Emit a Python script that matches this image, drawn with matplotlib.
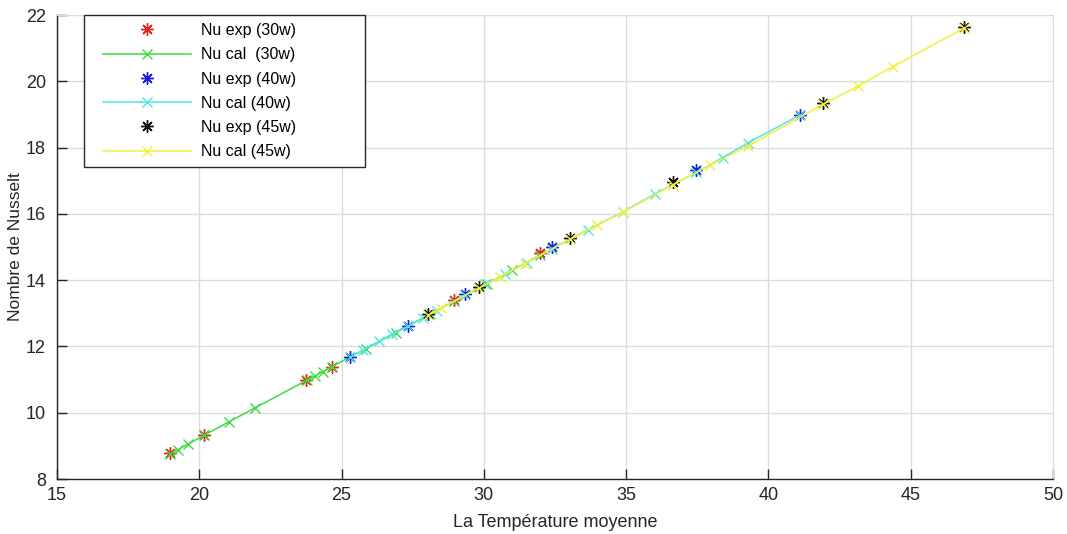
import matplotlib
matplotlib.use("Agg")
import matplotlib.pyplot as plt
from matplotlib.legend_handler import HandlerLine2D

# Experimental and calculated Nusselt numbers vs. mean temperature
exp30_T = [18.97, 20.17, 23.75, 24.66, 28.95, 31.97]
exp30_Nu = [8.78, 9.33, 10.99, 11.38, 13.40, 14.82]

cal30_T = [18.97, 19.25, 19.60, 20.17, 21.05, 21.95, 23.78, 24.05, 24.35,
           24.66, 25.85, 26.90, 28.10, 28.95, 30.10, 31.00, 31.97]
cal30_Nu = [8.76, 8.89, 9.05, 9.32, 9.73, 10.14, 10.98, 11.10, 11.24,
            11.39, 11.93, 12.42, 12.97, 13.36, 13.89, 14.30, 14.75]

exp40_T = [25.30, 27.33, 29.34, 32.39, 37.47, 41.10]
exp40_Nu = [11.68, 12.61, 13.58, 15.00, 17.32, 18.98]

cal40_T = [25.30, 25.75, 26.31, 26.77, 27.33, 27.86, 28.35, 29.34, 30.05,
           30.74, 31.50, 32.39, 33.66, 34.89, 36.00, 37.47, 38.40, 39.28, 41.10]
cal40_Nu = [11.68, 11.89, 12.15, 12.36, 12.61, 12.86, 13.08, 13.55, 13.87,
            14.18, 14.53, 14.95, 15.52, 16.06, 16.60, 17.25, 17.70, 18.14, 18.98]

exp45_T = [28.04, 29.83, 33.03, 36.64, 41.91, 46.87]
exp45_Nu = [12.98, 13.79, 15.28, 16.96, 19.34, 21.64]

cal45_T = [28.04, 28.50, 29.83, 30.57, 31.44, 33.03, 33.97, 34.90, 36.64,
           37.95, 39.28, 41.91, 43.14, 44.37, 46.87]
cal45_Nu = [12.94, 13.15, 13.76, 14.10, 14.50, 15.23, 15.66, 16.05, 16.88,
            17.47, 18.04, 19.30, 19.85, 20.44, 21.60]

x_ticks = [15, 20, 25, 30, 35, 40, 45, 50]
y_ticks = [8, 10, 12, 14, 16, 18, 20, 22]

plt.rcParams['font.family'] = ['Liberation Sans', 'DejaVu Sans']

AX_COLOR = '#262626'
GRID_COLOR = '#dcdcdc'
star = (8, 2, 0)

fig = plt.figure(figsize=(10.67, 5.34), dpi=100)
ax = fig.add_axes([57 / 1067, 55 / 534, 996 / 1067, 464 / 534])

ax.plot(exp30_T, exp30_Nu, linestyle='none', marker=star, ms=9, mew=1.0,
        color='#e8231e', label='Nu exp (30w)')
ax.plot(cal30_T, cal30_Nu, '-', marker='x', ms=6.5, mew=1.0, lw=1.1,
        color='#3fdc3f', label='Nu cal  (30w)')
ax.plot(exp40_T, exp40_Nu, linestyle='none', marker=star, ms=9, mew=1.0,
        color='#1c1cdc', label='Nu exp (40w)')
ax.plot(cal40_T, cal40_Nu, '-', marker='x', ms=6.5, mew=1.0, lw=1.1,
        color='#52e4e4', label='Nu cal (40w)')
ax.plot(exp45_T, exp45_Nu, linestyle='none', marker=star, ms=9, mew=1.0,
        color='#111111', label='Nu exp (45w)')
ax.plot(cal45_T, cal45_Nu, '-', marker='x', ms=6.5, mew=1.0, lw=1.1,
        color='#f0f03c', label='Nu cal (45w)')

ax.set_xlim(15, 50)
ax.set_ylim(8, 22)
ax.set_xticks(x_ticks)
ax.set_yticks(y_ticks)
ax.grid(True, color=GRID_COLOR, lw=1.0)
ax.set_axisbelow(True)

for side in ('top', 'right'):
    ax.spines[side].set_color(GRID_COLOR)
for side in ('left', 'bottom'):
    ax.spines[side].set_color(AX_COLOR)
    ax.spines[side].set_linewidth(1.0)

ax.tick_params(direction='in', length=7, width=1.0, color=AX_COLOR,
               labelcolor=AX_COLOR, labelsize=13, top=False, right=False)
ax.tick_params(axis='x', pad=6)
ax.tick_params(axis='y', pad=8)

ax.set_xlabel('La Température moyenne', fontsize=13, color=AX_COLOR, labelpad=7)
ax.set_ylabel('Nombre de Nusselt', fontsize=12.5, color=AX_COLOR, labelpad=2)

handler = HandlerLine2D(numpoints=1, xpad=0.7)
leg = ax.legend(loc='upper left', bbox_to_anchor=(27 / 996, 0, 281 / 996, 1.0),
                mode='expand', borderaxespad=0, fontsize=11.5, frameon=True,
                fancybox=False, framealpha=1, edgecolor=AX_COLOR,
                borderpad=0.5, labelspacing=0.58, handlelength=6.2,
                handletextpad=0.6,
                handler_map={matplotlib.lines.Line2D: handler})
leg.get_frame().set_linewidth(1.0)
for t in leg.get_texts():
    t.set_color('#000000')

fig.savefig('out.png', dpi=100, facecolor='white')
